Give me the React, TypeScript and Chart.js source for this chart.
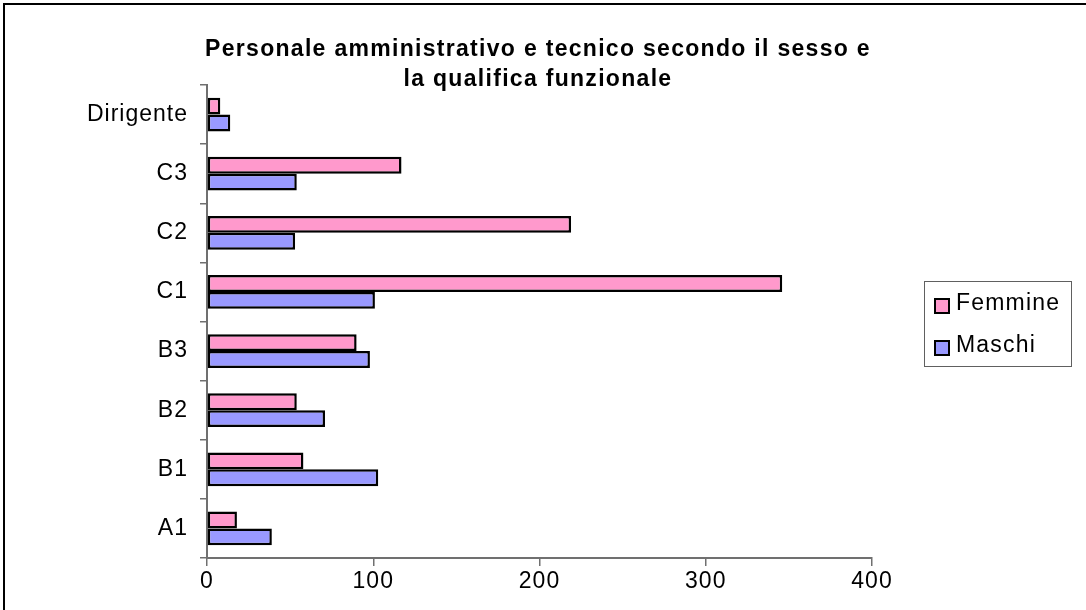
import React, { useEffect, useRef } from "react";
import { Chart, registerables } from "chart.js";

Chart.register(...registerables);

const categories = ["Dirigente", "C3", "C2", "C1", "B3", "B2", "B1", "A1"];
const femmine = [8, 117, 219, 346, 90, 54, 58, 18];
const maschi = [14, 54, 53, 101, 98, 71, 103, 39];
const seriesNames = ["Femmine", "Maschi"];
const seriesColors = ["#FF99CC", "#9999FF"];
const xTicks = [0, 100, 200, 300, 400];
const titleLines = ["Personale amministrativo e tecnico secondo il sesso e", "la qualifica funzionale"];

const FONT = "'Liberation Sans', Arial, sans-serif";

export default function App() {
  const ref = useRef<HTMLCanvasElement | null>(null);

  useEffect(() => {
    document.body.style.margin = "0";
    const canvas = ref.current;
    if (!canvas) return;
    const spacingPlugin = {
      id: "spacing",
      beforeDraw(chart: any) {
        chart.ctx.letterSpacing = "1px";
      },
      afterDraw(chart: any) {
        chart.ctx.letterSpacing = "0px";
      },
    };
    const chart = new Chart(canvas, {
      type: "bar",
      data: {
        labels: categories,
        datasets: [
          {
            label: seriesNames[0],
            data: femmine,
            backgroundColor: seriesColors[0],
            borderColor: "#000",
            borderWidth: 2.5,
            borderSkipped: false,
          },
          {
            label: seriesNames[1],
            data: maschi,
            backgroundColor: seriesColors[1],
            borderColor: "#000",
            borderWidth: 2.5,
            borderSkipped: false,
          },
        ],
      },
      options: {
        indexAxis: "y",
        animation: false,
        responsive: false,
        devicePixelRatio: 1,
        layout: { padding: { top: 85, right: 214, left: 0, bottom: 0 } },
        datasets: { bar: { categoryPercentage: 0.57, barPercentage: 1 } },
        plugins: {
          legend: { display: false },
          title: { display: false },
          tooltip: { enabled: false },
        },
        scales: {
          x: {
            min: 0,
            max: 400,
            afterFit(scale: any) {
              scale.height = 52;
            },
            afterBuildTicks(scale: any) {
              scale.ticks = xTicks.map((v) => ({ value: v }));
            },
            grid: {
              drawOnChartArea: false,
              drawTicks: true,
              tickLength: 8,
              color: "#707070",
              lineWidth: 1.5,
            },
            border: { display: true, color: "#707070", width: 2 },
            ticks: {
              color: "#000",
              padding: 2,
              font: { family: FONT, size: 23 },
            },
          },
          y: {
            afterFit(scale: any) {
              scale.width = 207;
            },
            grid: {
              drawOnChartArea: false,
              drawTicks: true,
              tickLength: 7,
              color: "#707070",
              lineWidth: 1.5,
              offset: true,
            },
            border: { display: true, color: "#707070", width: 2 },
            ticks: {
              color: "#000",
              padding: 12,
              font: { family: FONT, size: 23 },
            },
          },
        },
      },
      plugins: [spacingPlugin],
    });
    return () => chart.destroy();
  }, []);

  return (
    <div style={{ position: "relative", width: 1086, height: 610, overflow: "hidden", background: "#fff" }}>
      <div
        style={{
          position: "absolute",
          left: 3,
          top: 3,
          width: 1300,
          height: 800,
          border: "2px solid #000",
          boxSizing: "border-box",
        }}
      />
      <canvas ref={ref} width={1086} height={610} style={{ position: "absolute", left: 0, top: 0, width: 1086, height: 610 }} />
      <div
        style={{
          position: "absolute",
          left: 138,
          top: 33,
          width: 800,
          textAlign: "center",
          fontFamily: FONT,
          fontWeight: "bold",
          fontSize: 23,
          lineHeight: "30px",
          letterSpacing: "1.3px",
          color: "#000",
        }}
      >
        {titleLines.map((t, i) => (
          <div key={i}>{t}</div>
        ))}
      </div>
      <div
        style={{
          position: "absolute",
          left: 924,
          top: 281,
          width: 148,
          height: 86,
          border: "1px solid #606060",
          boxSizing: "border-box",
          fontFamily: FONT,
          fontSize: 23,
          letterSpacing: "1.2px",
          color: "#000",
        }}
      >
        {seriesNames.map((n, i) => (
          <div key={n} style={{ position: "absolute", left: 9, top: 5 + i * 42, height: 30, display: "flex", alignItems: "center" }}>
            <span
              style={{
                display: "inline-block",
                width: 16,
                height: 16,
                background: seriesColors[i],
                border: "2px solid #000",
                boxSizing: "border-box",
                marginRight: 6,
                marginTop: 8,
              }}
            />
            <span>{n}</span>
          </div>
        ))}
      </div>
    </div>
  );
}
